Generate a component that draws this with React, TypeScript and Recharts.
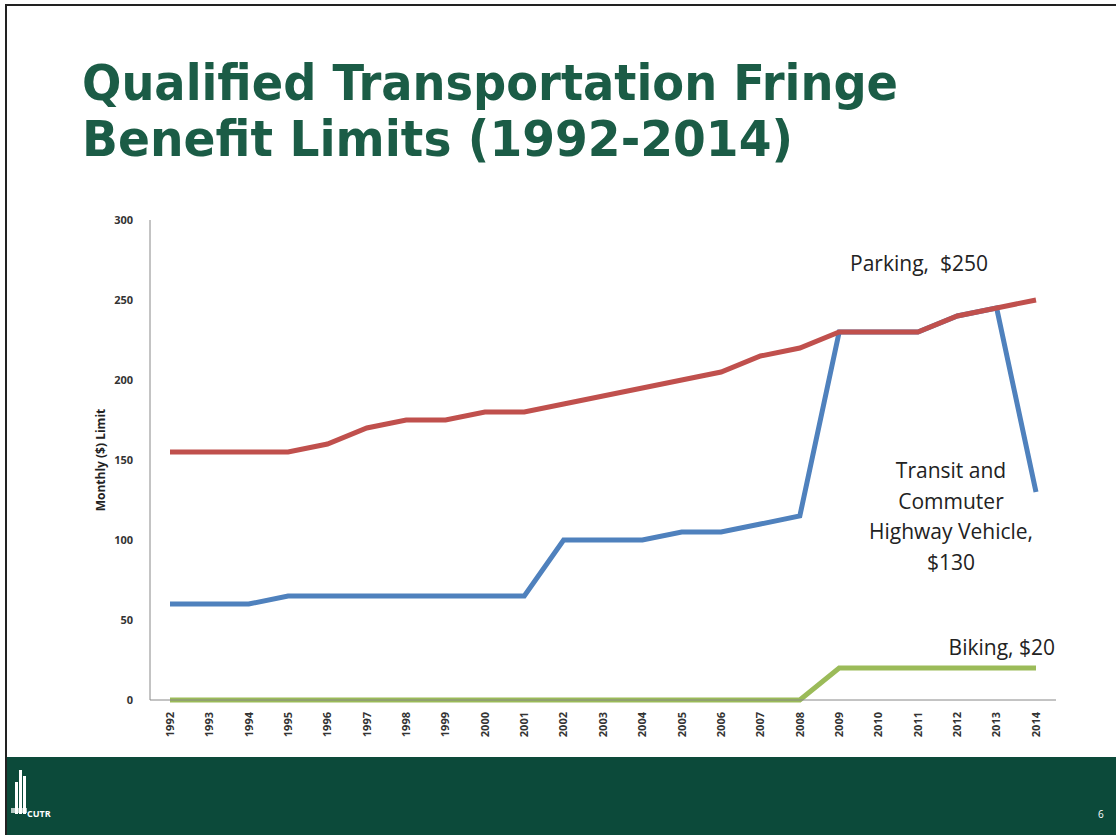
import { LineChart, Line, XAxis, YAxis, Label } from 'recharts'

const years = [
  '1992', '1993', '1994', '1995', '1996', '1997', '1998', '1999', '2000', '2001', '2002', '2003',
  '2004', '2005', '2006', '2007', '2008', '2009', '2010', '2011', '2012', '2013', '2014',
]
const parking = [155, 155, 155, 155, 160, 170, 175, 175, 180, 180, 185, 190, 195, 200, 205, 215, 220, 230, 230, 230, 240, 245, 250]
const transit = [60, 60, 60, 65, 65, 65, 65, 65, 65, 65, 100, 100, 100, 105, 105, 110, 115, 230, 230, 230, 240, 245, 130]
const biking = [0, 0, 0, 0, 0, 0, 0, 0, 0, 0, 0, 0, 0, 0, 0, 0, 0, 20, 20, 20, 20, 20, 20]
const yTicks = [0, 50, 100, 150, 200, 250, 300]

const data = years.map((year, i) => ({
  year,
  parking: parking[i],
  transit: transit[i],
  biking: biking[i],
}))

const TITLE_GREEN = '#1b5c46'
const FOOTER_GREEN = '#0c4a3a'
const labelFont = '"Open Sans", "Liberation Sans", sans-serif'

function YearTick(props: any) {
  const { x, y, payload } = props
  return (
    <text
      x={x}
      y={y + 10}
      transform={`rotate(-90, ${x}, ${y + 10})`}
      textAnchor="end"
      dy="0.35em"
      fontSize={11}
      fontWeight={700}
      fontFamily={labelFont}
      fill="#333"
    >
      {payload.value}
    </text>
  )
}

// only the last point gets a caption
function endLabel(lines: string[], dx: number, dy: number, anchor: 'middle' | 'end') {
  return (props: any) => {
    const { x, y, index } = props
    if (index !== years.length - 1) return null
    return (
      <text
        x={x + dx}
        y={y + dy}
        textAnchor={anchor}
        fontSize={21}
        fontFamily={labelFont}
        fill="#222"
        style={{ whiteSpace: 'pre' }}
      >
        {lines.map((l, i) => (
          <tspan key={i} x={x + dx} dy={i === 0 ? 0 : 30.5}>{l}</tspan>
        ))}
      </text>
    )
  }
}

export default function App() {
  return (
    <div style={{ position: 'absolute', left: 0, top: 0, width: 1116, height: 839, background: '#fff', overflow: 'hidden' }}>
      {/* slide frame + footer */}
      <div style={{ position: 'absolute', left: 5, top: 4, width: 1120, height: 831, border: '2px solid #222', boxSizing: 'border-box' }} />
      <div style={{ position: 'absolute', left: 7, top: 757, width: 1112, height: 78, background: FOOTER_GREEN }} />

      <svg width={1116} height={839} style={{ position: 'absolute', left: 0, top: 0 }}>
        <g fontFamily='"DejaVu Sans Condensed", "DejaVu Sans", sans-serif' fontWeight={700} fill={TITLE_GREEN} fontSize={50}>
          <text x={82} y={100} textLength={816} lengthAdjust="spacingAndGlyphs">Qualified Transportation Fringe</text>
          <text x={82} y={156} textLength={711} lengthAdjust="spacingAndGlyphs">Benefit Limits (1992-2014)</text>
        </g>
        {/* CUTR logo */}
        <g fill="#fff">
          <rect x={15} y={782} width={3} height={32} />
          <rect x={19} y={770} width={3} height={44} />
          <rect x={23} y={776} width={3} height={38} />
          <rect x={11} y={808} width={16} height={5} opacity={0.7} />
          <text x={27} y={817} fontSize={9} fontWeight={700} fontFamily={labelFont}>CUTR</text>
        </g>
        <text x={1098} y={818} fontSize={10} fill="#fff" fontFamily={labelFont}>6</text>
      </svg>

      <div style={{ position: 'absolute', left: 0, top: 0 }}>
        <LineChart width={1116} height={760} data={data} margin={{ top: 220, right: 60, bottom: 10, left: 100 }}>
          <XAxis
            dataKey="year"
            interval={0}
            height={50}
            padding={{ left: 20, right: 20 }}
            tick={<YearTick />}
            tickLine={false}
            tickSize={0}
            axisLine={{ stroke: '#888', strokeWidth: 1 }}
          />
          <YAxis
            domain={[0, 300]}
            ticks={yTicks}
            width={50}
            tickLine={false}
            tickSize={0}
            tickMargin={17}
            axisLine={{ stroke: '#888', strokeWidth: 1 }}
            tick={{ fontSize: 11, fontWeight: 700, fill: '#333', fontFamily: labelFont }}
          >
            <Label
              value="Monthly ($) Limit"
              angle={-90}
              position="insideLeft"
              offset={1}
              style={{ fontSize: 12, fontWeight: 700, fill: '#222', fontFamily: labelFont, textAnchor: 'middle' }}
            />
          </YAxis>
          <Line
            dataKey="transit"
            stroke="#4f81bd"
            strokeWidth={5}
            dot={false}
            isAnimationActive={false}
            label={endLabel(['Transit and', 'Commuter', 'Highway Vehicle,', '$130'], -85, -14, 'middle')}
          />
          <Line
            dataKey="parking"
            stroke="#c0504d"
            strokeWidth={5}
            dot={false}
            isAnimationActive={false}
            label={endLabel(['Parking,  $250'], -117, -29, 'middle')}
          />
          <Line
            dataKey="biking"
            stroke="#9bbb59"
            strokeWidth={5}
            dot={false}
            isAnimationActive={false}
            label={endLabel(['Biking, $20'], 19, -13, 'end')}
          />
        </LineChart>
      </div>
    </div>
  )
}
